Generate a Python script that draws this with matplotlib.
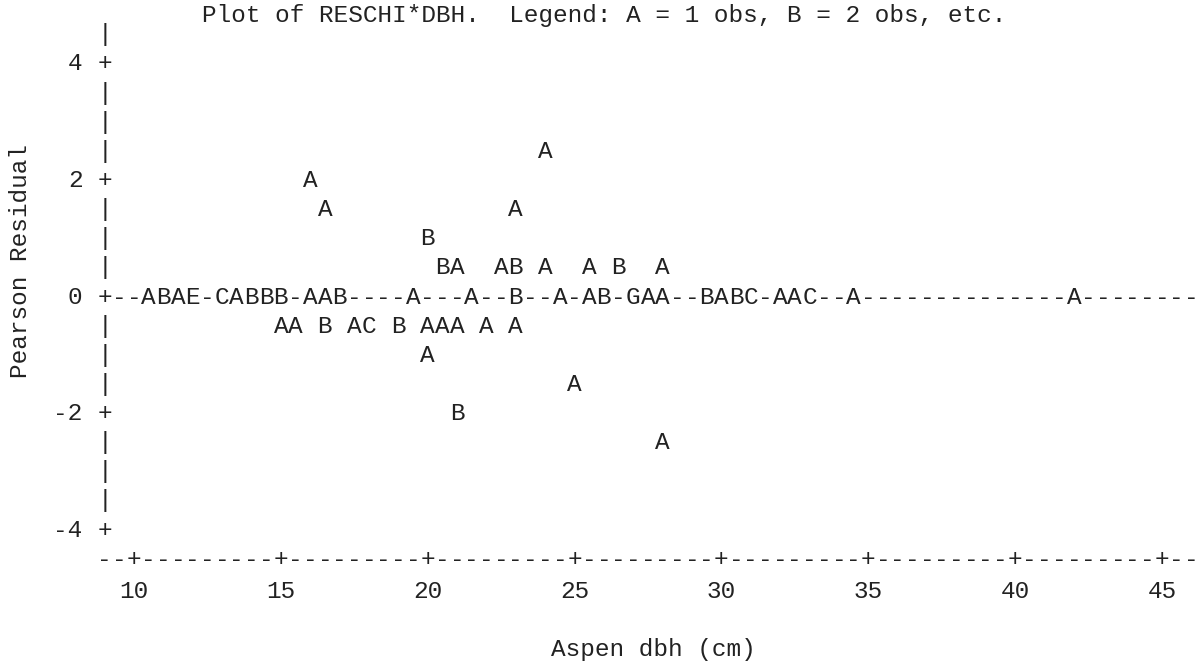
import matplotlib
matplotlib.use("Agg")
import matplotlib.pyplot as plt

# Pearson residuals vs. aspen dbh, binned to the line-printer grid
# (one column = 0.5 cm dbh, one line = 0.5 residual units)
dbh = [24.0,
       16.0,
       16.5, 23.0,
       20.0,
       20.5, 21.0, 22.5, 23.0, 24.0, 25.5, 26.5, 28.0,
       10.5, 11.0, 11.5, 12.0, 13.0, 13.5, 14.0, 14.5, 15.0, 16.0, 16.5, 17.0,
       19.5, 21.5, 23.0, 24.5, 25.5, 26.0, 27.0, 27.5, 28.0, 29.5, 30.0, 30.5,
       31.0, 32.0, 32.5, 33.0, 34.5, 42.0,
       15.0, 15.5, 16.5, 17.5, 18.0, 19.0, 20.0, 20.5, 21.0, 22.0, 23.0,
       20.0,
       25.0,
       21.0,
       28.0]
resid = [2.5,
         2.0,
         1.5, 1.5,
         1.0,
         0.5, 0.5, 0.5, 0.5, 0.5, 0.5, 0.5, 0.5,
         0.0, 0.0, 0.0, 0.0, 0.0, 0.0, 0.0, 0.0, 0.0, 0.0, 0.0, 0.0,
         0.0, 0.0, 0.0, 0.0, 0.0, 0.0, 0.0, 0.0, 0.0, 0.0, 0.0, 0.0,
         0.0, 0.0, 0.0, 0.0, 0.0, 0.0,
         -0.5, -0.5, -0.5, -0.5, -0.5, -0.5, -0.5, -0.5, -0.5, -0.5, -0.5,
         -1.0,
         -1.5,
         -2.0,
         -2.5]
nobs = [1,
        1,
        1, 1,
        2,
        2, 1, 1, 2, 1, 1, 2, 1,
        1, 2, 1, 5, 3, 1, 2, 2, 2, 1, 1, 2,
        1, 1, 2, 1, 1, 2, 7, 1, 1, 2, 1, 2,
        3, 1, 1, 3, 1, 1,
        1, 1, 2, 1, 3, 2, 1, 1, 1, 1, 1,
        1,
        1,
        2,
        1]

x_ticks = [10, 15, 20, 25, 30, 35, 40, 45]
y_ticks = [4, 2, 0, -2, -4]

title = "Plot of RESCHI*DBH.  Legend: A = 1 obs, B = 2 obs, etc."
x_label = "Aspen dbh (cm)"
y_label = "Pearson Residual"

FONT = "Liberation Mono"
FS = 17.6
INK = "#222222"

STEP_X = 0.5          # dbh per character column
STEP_Y = 0.5          # residual per printed line
X_LO, X_HI = 9.0, 46.0
Y_LO, Y_HI = -4.5, 4.5
BASE = 0.13           # baseline sits this far below a line's centre

fig = plt.figure(figsize=(12.01, 6.64), dpi=100)
ax = fig.add_axes([0, 0, 1, 1])
ax.set_xlim(5.438, 46.33)
ax.set_ylim(-6.318, 5.08)
ax.axis("off")


def put(x, y, s, **kw):
    opts = dict(ha="center", va="baseline", family=FONT, fontsize=FS, color=INK)
    opts.update(kw)
    ax.text(x, y - BASE, s, **opts)


n_cols = int(round((X_HI - X_LO) / STEP_X)) + 1
cols = [X_LO + i * STEP_X for i in range(n_cols)]

# vertical axis: '|' on every line, '+' at the labelled ticks
n_rows = int(round((Y_HI - (Y_LO + STEP_Y)) / STEP_Y)) + 1
for i in range(n_rows):
    y = Y_HI - i * STEP_Y
    put(X_LO, y, "+" if any(abs(y - t) < 1e-9 for t in y_ticks) else "|")

for t in y_ticks:
    put(X_LO - 2 * STEP_X + STEP_X / 2, t, str(t), ha="right")

# horizontal axis line with '+' at the labelled ticks
for x in cols:
    put(x, Y_LO, "+" if any(abs(x - t) < 1e-9 for t in x_ticks) else "-")
for t in x_ticks:
    ax.text(t, -5.05 - BASE, str(t), ha="center", va="baseline",
            family=FONT, fontsize=FS, color=INK)

# reference line at zero, overwritten by plotted symbols
occupied = {x for x, r in zip(dbh, resid) if r == 0}
for x in cols[1:]:
    if x not in occupied:
        put(x, 0.0, "-")

# plotted symbols: A = 1 obs, B = 2 obs, ...
for x, r, n in zip(dbh, resid, nobs):
    put(x, r, chr(ord("A") + n - 1))

put(26.0, 4.83, title)
put(27.7, -6.05, x_label)
ax.text(6.12, 0.6, y_label, rotation=90, ha="center", va="center",
        family=FONT, fontsize=FS, color=INK)

fig.savefig("out.png", dpi=100, facecolor="white")
